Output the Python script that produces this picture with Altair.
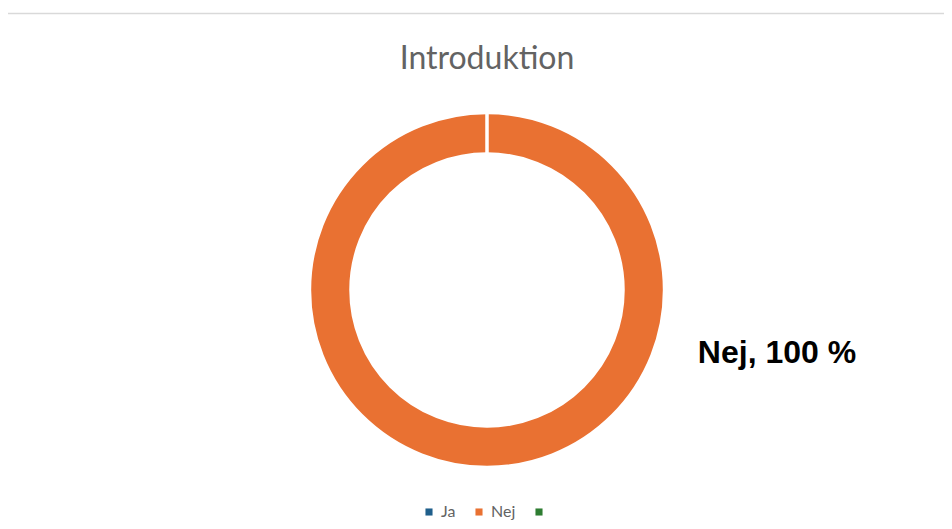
import altair as alt
import pandas as pd

categories = ["Ja", "Nej", "(tom)"]
values = [0, 100, 0]
colors = ["#1F5F8B", "#E97132", "#2E7D32"]
title_text = "Introduktion"
label_text = "Nej, 100 %"

df = pd.DataFrame({"kategori": categories, "andel": values, "ordning": [0, 1, 2]})

W, H = 936, 513
cx, cy = 479, 282

color_scale = alt.Scale(domain=categories, range=colors)

ring = alt.Chart(df).mark_arc(
    outerRadius=177.5, innerRadius=136, stroke="white", strokeWidth=3.5
).encode(
    theta=alt.Theta("andel:Q", stack=True),
    order=alt.Order("ordning:Q"),
    color=alt.Color(
        "kategori:N",
        scale=color_scale,
        sort=categories,
        legend=alt.Legend(
            title=None,
            orient="none",
            direction="horizontal",
            legendX=413,
            legendY=496,
            symbolType="square",
            symbolSize=50,
            symbolStrokeWidth=0,
            labelFont="Lato",
            labelFontSize=16,
            labelColor="#636363",
            columnPadding=15,
            labelOffset=4,
            labelExpr="datum.label == '(tom)' ? '' : datum.label",
        ),
    ),
    x=alt.value(cx),
    y=alt.value(cy),
)

title = alt.Chart(pd.DataFrame({"t": [title_text]})).mark_text(
    font="Lato", fontSize=32, color="#636363", align="center", baseline="middle"
).encode(text="t:N", x=alt.value(cx), y=alt.value(51))

label = alt.Chart(pd.DataFrame({"t": [label_text]})).mark_text(
    font="Liberation Sans", fontSize=32, fontWeight="bold", color="#000000",
    align="center", baseline="middle"
).encode(text="t:N", x=alt.value(769), y=alt.value(345))

line = alt.Chart(pd.DataFrame({"a": [0]})).mark_rule(color="#D9D9D9", strokeWidth=1.5).encode(
    x=alt.value(-4), x2=alt.value(944), y=alt.value(5.5)
)

chart = alt.layer(line, ring, title, label).properties(
    width=W, height=H, autosize=alt.AutoSizeParams(type="none"), padding=0
).configure_view(stroke=None)

chart.save("out.html", embed_options={"renderer": "svg", "actions": False})
